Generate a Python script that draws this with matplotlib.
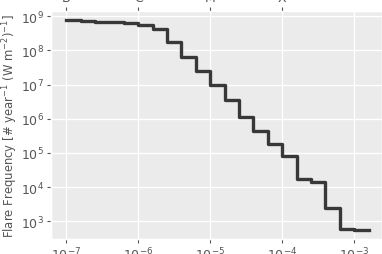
import numpy as np
import matplotlib
matplotlib.use("Agg")
import matplotlib.pyplot as plt

plt.style.use("ggplot")

# log10 of bin edges (W m^-2) and log10 of flare frequency per bin
log_edges = [-7.0, -6.8, -6.6, -6.4, -6.2, -6.0, -5.8, -5.6, -5.4, -5.2, -5.0,
             -4.8, -4.6, -4.4, -4.2, -4.0, -3.8, -3.6, -3.4, -3.2, -3.0, -2.8]
log_freq = [8.883, 8.854, 8.845, 8.833, 8.80, 8.745, 8.63, 8.24, 7.81, 7.40, 7.0,
            6.55, 6.04, 5.65, 5.26, 4.92, 4.24, 4.16, 3.38, 2.77, 2.74]
top_ticks = [1e-7, 1e-6, 1e-5, 1e-4]
top_labels = ["B", "C", "M", "X"]

edges = 10.0 ** np.array(log_edges)
freq = 10.0 ** np.array(log_freq)
yvals = np.append(freq, freq[-1])

fig = plt.figure(figsize=(3.82, 2.55), dpi=100)
ax = fig.add_axes([0.1335, 0.0588, 0.8665, 0.8942])
ax.set_facecolor("#EBEBEB")
ax.step(edges, yvals, where="post", color="#383838", lw=2.4)
ax.set_xscale("log")
ax.set_yscale("log")
ax.set_xlim(10 ** -7.2125, 10 ** -2.615)
ax.set_ylim(10 ** 2.483, 10 ** 9.155)
ax.set_xticks([1e-7, 1e-6, 1e-5, 1e-4, 1e-3])
ax.set_yticks([1e3, 1e4, 1e5, 1e6, 1e7, 1e8, 1e9])
ax.minorticks_off()
ax.tick_params(axis="both", labelsize=9, length=3, width=0.8, colors="#555555", pad=2)
ax.grid(True, which="major", color="white", lw=1.0)
ax.set_ylabel("Flare Frequency [# year$^{-1}$ (W m$^{-2}$)$^{-1}$]", fontsize=8.4,
              color="#555555")
ax.yaxis.set_label_coords(-0.093, 0.5)

ax2 = ax.twiny()
ax2.set_xscale("log")
ax2.set_xlim(ax.get_xlim())
ax2.set_xticks(top_ticks)
ax2.set_xticklabels(top_labels)
ax2.minorticks_off()
ax2.grid(False)
ax2.tick_params(axis="x", labelsize=9, length=3, width=0.8, colors="#555555", pad=2)

fig.savefig("out.png", dpi=100)
